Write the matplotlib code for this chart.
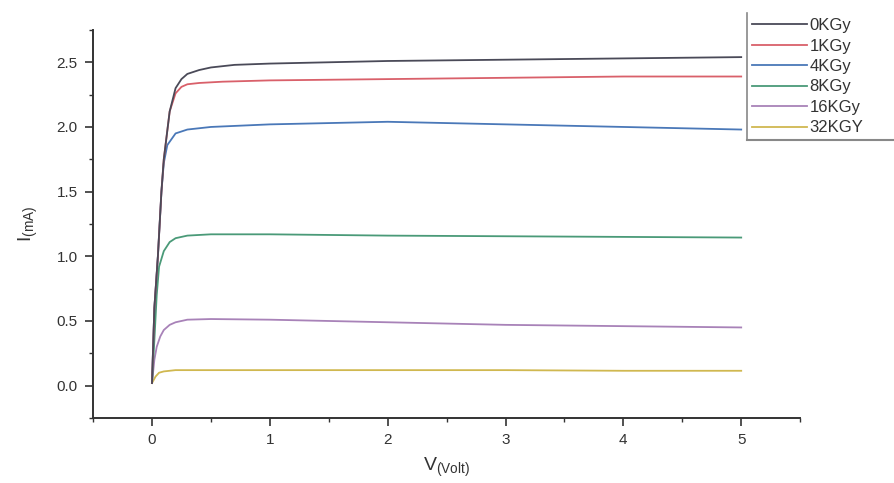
import matplotlib
matplotlib.use('Agg')
from matplotlib import pyplot as plt
from matplotlib.lines import Line2D
from matplotlib.ticker import MultipleLocator, FormatStrFormatter

plt.rcParams['font.family'] = ['Liberation Sans', 'DejaVu Sans']
plt.rcParams['mathtext.fontset'] = 'custom'
plt.rcParams['mathtext.rm'] = 'Liberation Sans'
plt.rcParams['mathtext.it'] = 'Liberation Sans:italic'

labels = ['0KGy', '1KGy', '4KGy', '8KGy', '16KGy', '32KGY']
colors = ['#4a4a58', '#d9606a', '#4a78b8', '#4a9a78', '#a882b8', '#d0b850']

# values (V in volt, I in mA)
v_0 = [0, 0.02, 0.05, 0.08, 0.1, 0.15, 0.2, 0.25, 0.3, 0.4, 0.5, 0.7, 1, 1.5, 2, 3, 4, 5]
i_0 = [0.02, 0.6, 1.0, 1.5, 1.75, 2.12, 2.3, 2.37, 2.41, 2.44, 2.46, 2.48, 2.49, 2.50, 2.51, 2.52, 2.53, 2.54]

v_1 = [0, 0.02, 0.05, 0.08, 0.1, 0.15, 0.2, 0.25, 0.3, 0.4, 0.6, 1, 2, 3, 4, 5]
i_1 = [0.02, 0.6, 1.0, 1.5, 1.75, 2.12, 2.26, 2.31, 2.33, 2.34, 2.35, 2.36, 2.37, 2.38, 2.39, 2.39]

v_4 = [0, 0.02, 0.05, 0.08, 0.1, 0.13, 0.2, 0.3, 0.5, 1, 2, 2.5, 3, 3.5, 4, 5]
i_4 = [0.02, 0.6, 1.0, 1.5, 1.72, 1.86, 1.95, 1.98, 2.0, 2.02, 2.04, 2.03, 2.02, 2.01, 2.0, 1.98]

v_8 = [0, 0.02, 0.04, 0.06, 0.1, 0.15, 0.2, 0.3, 0.5, 1, 2, 3, 4, 5]
i_8 = [0.02, 0.35, 0.7, 0.92, 1.04, 1.11, 1.14, 1.16, 1.17, 1.17, 1.16, 1.155, 1.15, 1.145]

v_16 = [0, 0.02, 0.04, 0.07, 0.1, 0.15, 0.2, 0.3, 0.5, 1, 2, 3, 4, 5]
i_16 = [0.02, 0.2, 0.3, 0.38, 0.43, 0.47, 0.49, 0.51, 0.515, 0.51, 0.49, 0.47, 0.46, 0.45]

v_32 = [0, 0.03, 0.06, 0.1, 0.2, 0.5, 1, 2, 3, 4, 5]
i_32 = [0.02, 0.07, 0.1, 0.11, 0.12, 0.12, 0.12, 0.12, 0.12, 0.115, 0.115]

series = [(v_0, i_0), (v_1, i_1), (v_4, i_4), (v_8, i_8), (v_16, i_16), (v_32, i_32)]

fig = plt.figure(figsize=(8.95, 4.83), dpi=100)
ax = fig.add_axes([0.104, 0.1346, 0.79, 0.8034])

# draw lowest dose on top like the original stacking
for (v, i), lab, col in reversed(list(zip(series, labels, colors))):
    ax.plot(v, i, color=col, lw=1.3, label=lab)

ax.set_xlim(-0.5, 5.5)
ax.set_ylim(-0.25, 2.75)
ax.xaxis.set_major_locator(MultipleLocator(1))
ax.xaxis.set_minor_locator(MultipleLocator(0.5))
ax.yaxis.set_major_locator(MultipleLocator(0.5))
ax.yaxis.set_minor_locator(MultipleLocator(0.25))
ax.yaxis.set_major_formatter(FormatStrFormatter('%.1f'))

for side in ['top', 'right']:
    ax.spines[side].set_visible(False)
for side in ['left', 'bottom']:
    ax.spines[side].set_linewidth(1.4)
    ax.spines[side].set_color('#333333')

ax.tick_params(which='major', direction='out', length=6, width=1.2, pad=5,
               labelsize=11, colors='#333333')
ax.tick_params(which='minor', direction='out', length=3, width=1.0, colors='#333333')

ax.set_xlabel(r'V$_{\mathrm{(Volt)}}$', fontsize=14, color='#333333', labelpad=6)
ax.set_ylabel(r'I$_{\mathrm{(mA)}}$', fontsize=14, color='#333333', labelpad=12)

handles, labs = ax.get_legend_handles_labels()
leg = fig.legend(handles[::-1], labs[::-1], loc='upper left',
                 bbox_to_anchor=(747 / 895, 1 - 13 / 483), frameon=False,
                 fontsize=12, handlelength=3.3, handletextpad=0.15,
                 labelspacing=0.33, borderpad=0.3, borderaxespad=0)
for t in leg.get_texts():
    t.set_color('#333333')

# partial legend box edges (left and bottom), as in the original
fig.add_artist(Line2D([747 / 895, 747 / 895], [1 - 13 / 483, 1 - 140 / 483],
                      transform=fig.transFigure, color='#888888', lw=1.2))
fig.add_artist(Line2D([747 / 895, 1.0], [1 - 140 / 483, 1 - 140 / 483],
                      transform=fig.transFigure, color='#888888', lw=1.5))

fig.savefig('out.png', dpi=100)
